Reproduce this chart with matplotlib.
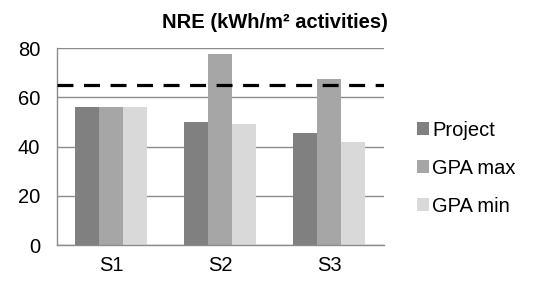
import matplotlib.pyplot as plt
import numpy as np

scenarios = ['S1', 'S2', 'S3']
project = [56, 50, 45.5]
gpa_max = [56, 77.5, 67.5]
gpa_min = [56, 49, 42]
limit = 65
series = ['Project', 'GPA max', 'GPA min']
colors = ['#808080', '#a6a6a6', '#d9d9d9']


def main():
    plt.rcParams['font.family'] = ['Liberation Sans', 'DejaVu Sans']
    fig = plt.figure(figsize=(5.47, 2.83), dpi=100)
    ax = fig.add_axes([0.104, 0.134, 0.598, 0.696])

    x = np.arange(len(scenarios))
    w = 0.22
    for i, (vals, name) in enumerate(zip([project, gpa_max, gpa_min], series)):
        ax.bar(x + (i - 1) * w, vals, w, color=colors[i], label=name, zorder=2)

    ax.axhline(limit, color='black', lw=2.3, dashes=(5, 3.3), zorder=3)

    ax.set_xlim(-0.5, 2.5)
    ax.set_ylim(0, 80)
    ax.set_yticks([0, 20, 40, 60, 80])
    ax.set_xticks(x)
    ax.set_xticklabels(scenarios)
    ax.tick_params(length=0, labelsize=14.5, colors='black')
    ax.tick_params(axis='x', pad=8)
    ax.tick_params(axis='y', pad=12)
    ax.yaxis.grid(True, color='#8c8c8c', lw=1, zorder=0)
    for s in ['top', 'right']:
        ax.spines[s].set_visible(False)
    for s in ['left', 'bottom']:
        ax.spines[s].set_color('#8c8c8c')
        ax.spines[s].set_linewidth(1)

    fig.text(0.503, 0.92, 'NRE (kWh/m\u00b2 activities)', ha='center',
             va='center', fontsize=14.5, fontweight='bold')

    ax.legend(loc='center left', bbox_to_anchor=(1.045, 0.39), frameon=False,
              fontsize=14.5, handlelength=0.6, handleheight=0.6,
              handletextpad=0.15, labelspacing=0.95)

    fig.savefig('out.png', dpi=100)


if __name__ == '__main__':
    main()
